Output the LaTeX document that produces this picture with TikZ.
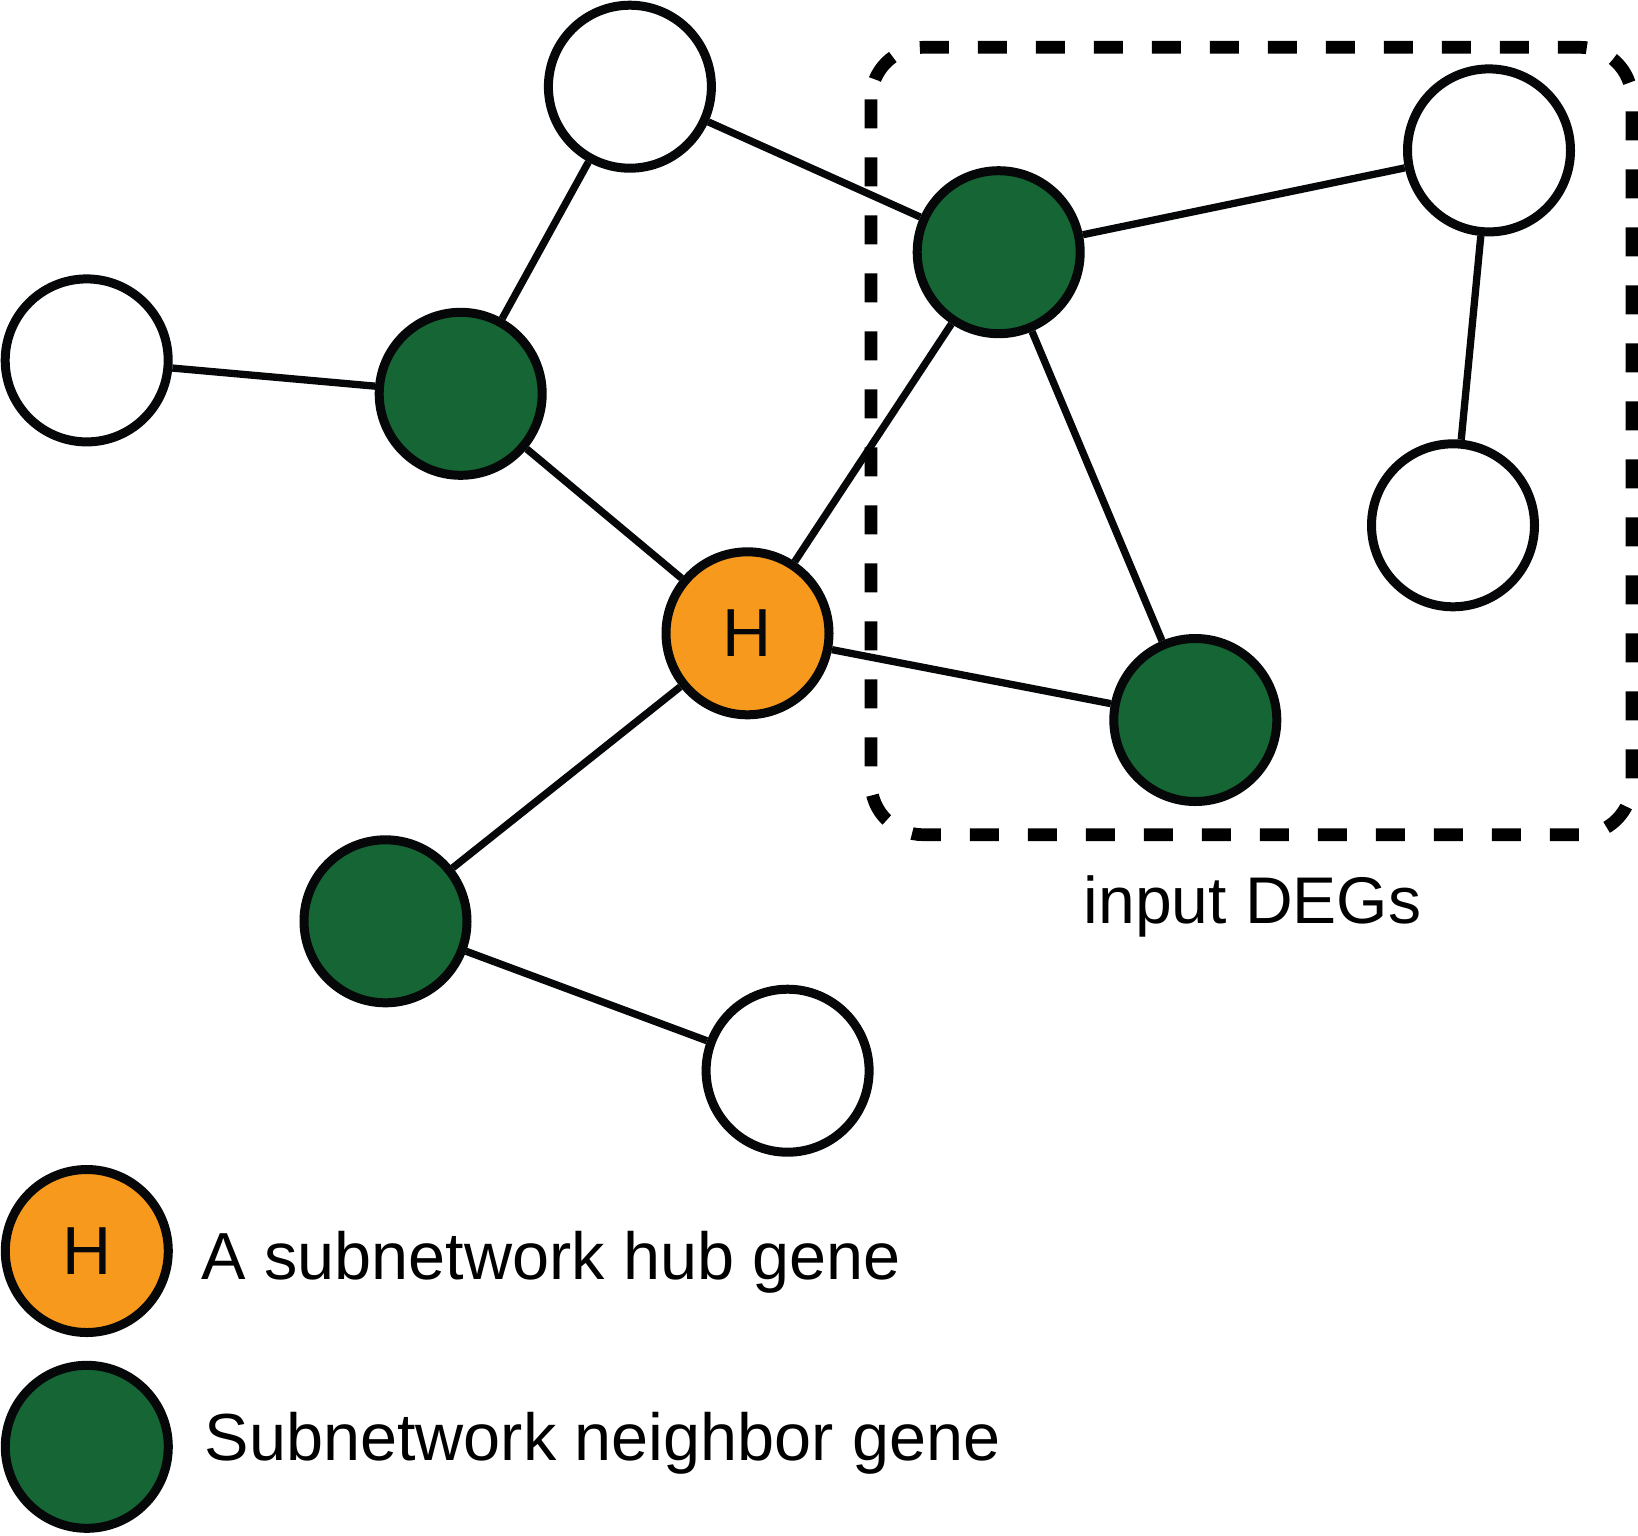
\documentclass[tikz,border=0pt]{standalone}
\usepackage{fontspec}
\setmainfont{Liberation Sans}
\definecolor{hubc}{RGB}{247,153,29}
\definecolor{neighc}{RGB}{21,101,53}
\definecolor{linec}{RGB}{5,7,8}
\newcommand\legfont{\fontsize{66.6pt}{80pt}\selectfont}
\newcommand\degfont{\fontsize{66pt}{78pt}\selectfont}
\newcommand\hfont{\fontsize{68pt}{80pt}\selectfont}
\tikzset{
  gene/.style={circle, draw=linec, line width=9pt, minimum size=163pt, inner sep=0pt, fill=white},
  hubgene/.style={gene, fill=hubc, font=\hfont, text=linec},
  neighgene/.style={gene, fill=neighc},
  link/.style={draw=linec, line width=7.3pt},
  degbox/.style={draw=black, line width=12.7pt, dash pattern=on 29pt off 29pt, rounded corners=52pt},
  lbl/.style={inner sep=0pt, text=black}
}
\begin{document}
\begin{tikzpicture}[x=1pt,y=-1pt]
\useasboundingbox (0,0) rectangle (1638,1535);
% nodes
\node[gene] (w1) at (629.9,86.7) {};
\node[gene] (w2) at (86.7,360.4) {};
\node[neighgene] (g1) at (460.7,393.8) {};
\node[hubgene] (h) at (747.5,633.3) {H};
\node[neighgene] (g2) at (998.7,252.2) {};
\node[gene] (w3) at (1489.0,150.4) {};
\node[gene] (w4) at (1453.0,525.3) {};
\node[neighgene] (g3) at (1195.3,720.0) {};
\node[neighgene] (g4) at (385.5,921.3) {};
\node[gene] (w5) at (787.6,1070.7) {};
% edges
\draw[link] (w1) -- (g1);
\draw[link] (w1) -- (g2);
\draw[link] (w2) -- (g1);
\draw[link] (g1) -- (h);
\draw[link] (h) -- (g2);
\draw[link] (h) -- (g3);
\draw[link] (g2) -- (g3);
\draw[link] (g2) -- (w3);
\draw[link] (w3) -- (w4);
\draw[link] (h) -- (g4);
\draw[link] (g4) -- (w5);
% input DEGs box
\draw[degbox] (871,47.3) rectangle (1632,834.7);
\node[lbl, font=\degfont, anchor=base] (deg) at (1252.5,923.3) {input DEGs};
% legend
\node[hubgene] (lh) at (86.8,1251) {H};
\node[neighgene] (lg) at (86.8,1446.8) {};
\node[lbl, font=\legfont, anchor=base west] (lht) at (201,1279) {A subnetwork hub gene};
\node[lbl, font=\legfont, anchor=base west] (lgt) at (204.5,1460.7) {Subnetwork neighbor gene};
\end{tikzpicture}
\end{document}
